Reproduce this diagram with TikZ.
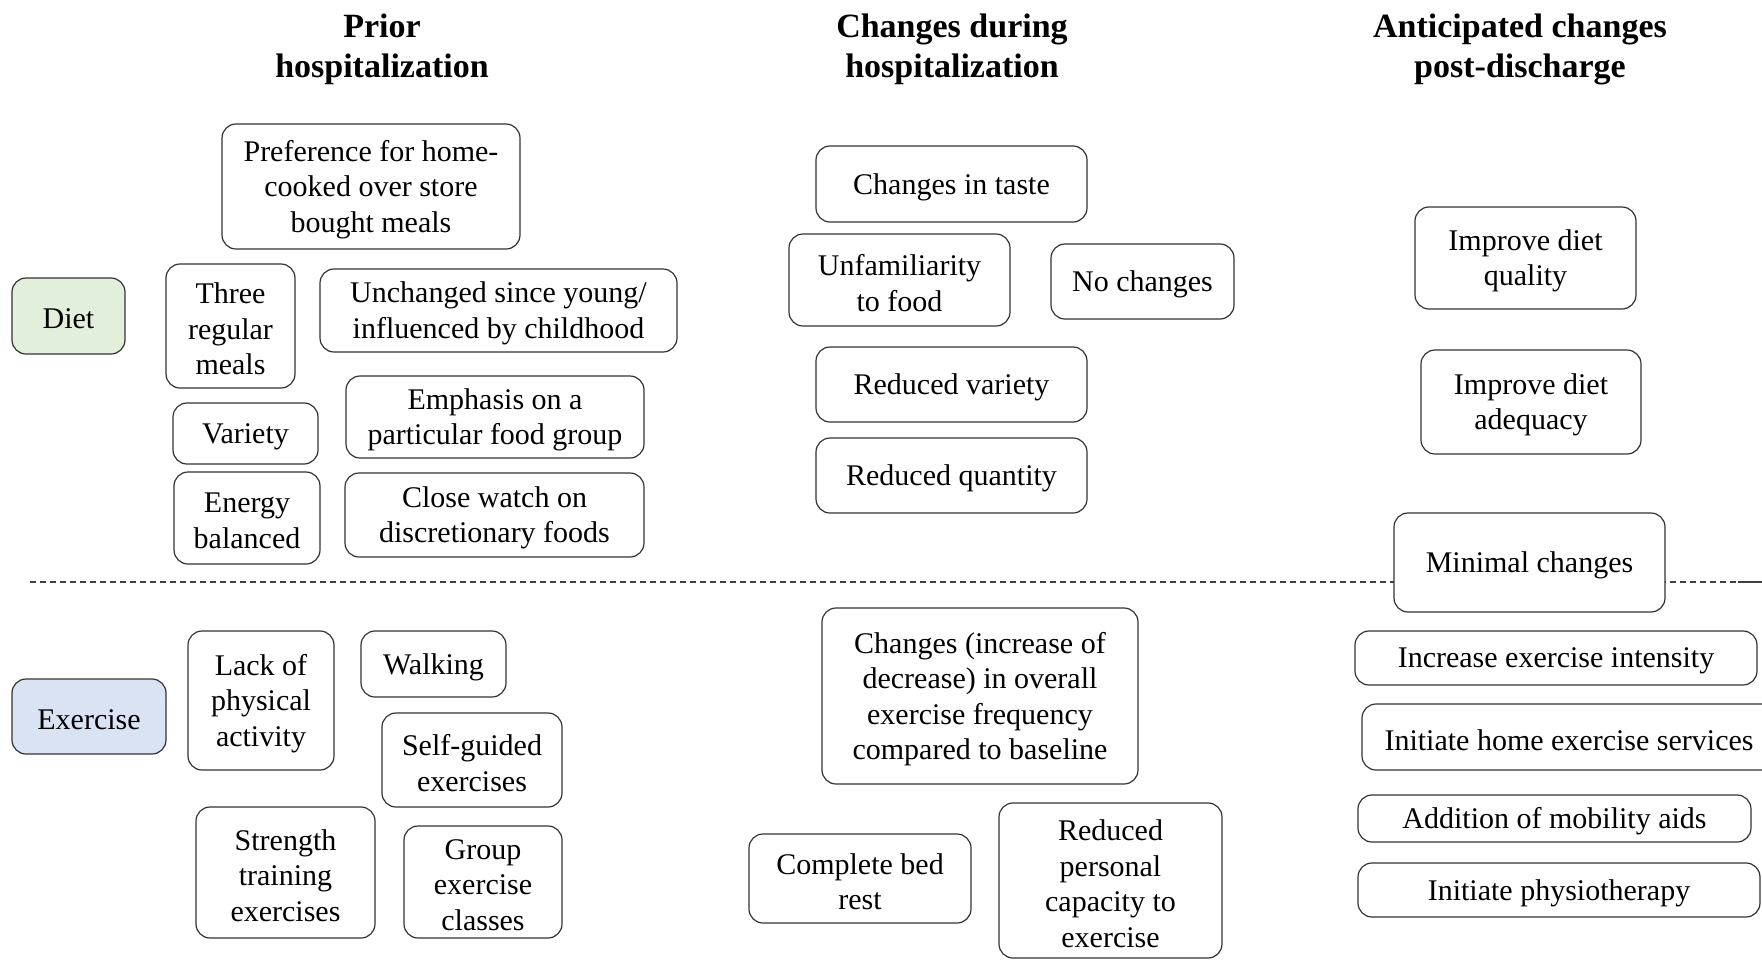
\documentclass[tikz,border=0pt]{standalone}
\usepackage{fontspec}
\setmainfont{Liberation Serif}
\definecolor{dietgreen}{HTML}{E2EFDA}
\definecolor{exblue}{HTML}{DAE3F3}
% rounded box given by its corners: [extra style]{name}{x1}{y1}{x2}{y2}{text}
\newcommand\rbox[7][]{%
  \node[box,#1,minimum width={#5pt-#3pt},minimum height={#6pt-#4pt}]
    (#2) at ({(#3+#5)/2},{(#4+#6)/2}) {};
  \node[boxtext] (#2-text) at (#2.center) {#7};}
\begin{document}
\begin{tikzpicture}[x=1pt,y=-1pt,
  box/.style={draw=black!80, line width=1.2pt, rounded corners=14pt, fill=white,
    inner sep=0pt},
  boxtext/.style={align=center, inner sep=0pt, yshift=-3pt,
    font=\fontsize{30}{35.5}\selectfont},
  head/.style={align=center, inner sep=0pt, font=\fontsize{34}{40}\selectfont\bfseries},
  divider/.style={draw=black!75, line width=1.2pt, dash pattern=on 6pt off 4pt}]
\useasboundingbox (0,0) rectangle (1762,959);

% column headings
\node[head] (h1) at (382,49) {Prior\\hospitalization};
\node[head] (h2) at (952,49) {Changes during\\hospitalization};
\node[head] (h3) at (1520,49) {Anticipated changes\\post-discharge};

% separator between diet and exercise
\coordinate (dl) at (30,582);
\coordinate (dr) at (1738,582);
\coordinate (de) at (1762,582);
\draw[divider] (dl) -- (dr);
\draw[draw=black!75, line width=1.2pt] (dr) -- (de);

% row labels
\rbox[fill=dietgreen]{diet}{12}{278}{125}{354}{Diet}
\rbox[fill=exblue]{exercise}{12}{679}{166}{754}{Exercise}

% prior hospitalization: diet
\rbox{pref}{222}{124}{520}{249}{Preference for home-\\cooked over store\\bought meals}
\rbox{three}{166}{264}{295}{388}{Three\\regular\\meals}
\rbox{unchanged}{320}{269}{677}{352}{Unchanged since young/\\influenced by childhood}
\rbox{emphasis}{346}{376}{644}{458}{Emphasis on a\\particular food group}
\rbox{variety}{173}{403}{318}{464}{Variety}
\rbox{energy}{174}{472}{320}{564}{Energy\\balanced}
\rbox{closewatch}{345}{473}{644}{557}{Close watch on\\discretionary foods}

% prior hospitalization: exercise
\rbox{lack}{188}{631}{334}{770}{Lack of\\physical\\activity}
\rbox{walking}{361}{631}{506}{697}{Walking}
\rbox{selfguided}{382}{713}{562}{807}{Self-guided\\exercises}
\rbox{strength}{196}{807}{375}{938}{Strength\\training\\exercises}
\rbox{group}{404}{826}{562}{938}{Group\\exercise\\classes}

% during hospitalization: diet
\rbox{taste}{816}{146}{1087}{222}{Changes in taste}
\rbox{unfamiliar}{789}{234}{1010}{326}{Unfamiliarity\\to food}
\rbox{nochange}{1051}{244}{1234}{319}{No changes}
\rbox{redvariety}{816}{347}{1087}{422}{Reduced variety}
\rbox{redquantity}{816}{438}{1087}{513}{Reduced quantity}

% during hospitalization: exercise
\rbox{freq}{822}{608}{1138}{784}{Changes (increase of\\decrease) in overall\\exercise frequency\\compared to baseline}
\rbox{bedrest}{749}{834}{971}{923}{Complete bed\\rest}
\rbox{capacity}{999}{803}{1222}{958}{Reduced\\personal\\capacity to\\exercise}

% post-discharge
\rbox{quality}{1415}{207}{1636}{309}{Improve diet\\quality}
\rbox{adequacy}{1421}{350}{1641}{454}{Improve diet\\adequacy}
\rbox{minimal}{1394}{513}{1665}{612}{Minimal changes}
\rbox{intensity}{1355}{631}{1757}{685}{Increase exercise intensity}
\rbox{homeex}{1362}{704}{1776}{770}{Initiate home exercise services}
\rbox{mobility}{1358}{795}{1751}{842}{Addition of mobility aids}
\rbox{physio}{1358}{863}{1760}{917}{Initiate physiotherapy}
\end{tikzpicture}
\end{document}
